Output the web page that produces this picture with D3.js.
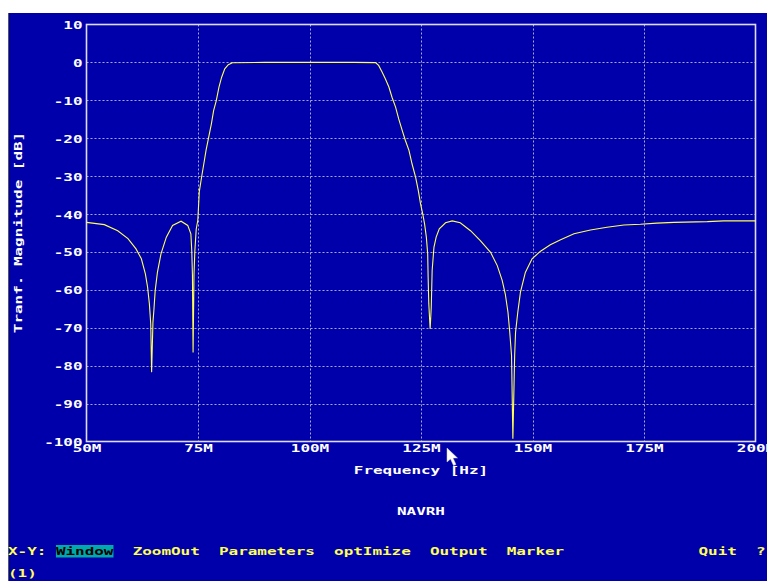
<!DOCTYPE html>
<html>
<head>
<meta charset="utf-8">
<script src="https://cdn.jsdelivr.net/npm/d3@7"></script>
<style>
  body { margin: 0; background: #fff; }
  svg { display: block; }
  text { font-family: "DejaVu Sans Mono", monospace; font-weight: bold; font-size: 11px; }
</style>
</head>
<body>
<svg id="chart" width="767" height="581"></svg>
<script>
// frequency in MHz, magnitude in dB
const freqMHz = [
  50.0, 54.0, 57.0, 59.3, 61.1, 62.3, 63.2, 63.7, 64.1, 64.4, 64.6, 64.9, 65.1, 65.4, 65.9,
  66.7, 67.9, 69.3, 71.2, 72.7, 73.4, 73.6, 73.75, 73.9, 74.1, 74.3, 74.6, 74.95, 75.3, 75.8,
  76.3, 76.8, 77.4, 78.0, 78.5, 79.1, 79.7, 80.3, 81.0, 81.8, 82.7, 90.0, 100.0, 110.0, 114.8,
  115.5, 116.3, 117.0, 117.8, 118.5, 119.3, 120.0, 120.8, 121.5, 122.3, 123.0, 123.8, 124.4, 124.9,
  125.4, 125.8, 126.2, 126.5, 126.6, 126.75, 127.05, 127.3, 127.5, 127.9, 128.4, 129.1, 130.5, 132.0,
  133.8, 136.1, 138.3, 140.6, 142.1, 143.2, 143.9, 144.5, 144.9, 145.3, 145.6, 146.0, 146.2, 146.7,
  147.3, 148.4, 149.9, 151.8, 154.0, 156.3, 159.3, 163.0, 166.7, 170.5, 174.2, 177.9, 181.7, 189.2,
  192.9, 200.0
];
const magDb = [
  -42.2, -42.8, -44.4, -46.5, -49.2, -51.8, -55.8, -59.3, -63.7, -68.9, -81.7, -68.5, -65.5, -60.2, -55.4,
  -50.5, -46.1, -43.0, -41.9, -43.0, -45.2, -49.6, -56.0, -76.5, -56.0, -49.6, -44.0, -41.7, -34.0, -30.3,
  -26.8, -23.2, -19.7, -16.2, -12.7, -10.1, -6.5, -3.9, -1.7, -0.6, -0.1, 0.0, 0.0, 0.0, -0.05,
  -0.8, -2.6, -4.3, -6.5, -9.2, -11.8, -14.9, -18.0, -20.6, -23.2, -26.8, -30.3, -33.8, -37.3,
  -40.0, -42.6, -46.1, -50.5, -56.7, -63.7, -70.3, -64.6, -54.9, -48.8, -46.1, -43.9, -42.3, -41.8,
  -42.3, -44.4, -47.0, -50.1, -53.6, -57.5, -61.1, -65.9, -71.2, -77.3, -99.3, -77.3, -71.2, -65.9,
  -60.6, -55.4, -51.8, -49.8, -48.1, -46.8, -45.2, -44.2, -43.5, -42.9, -42.7, -42.4, -42.2, -42.0,
  -41.8, -41.8
];
const xTicks = [50, 75, 100, 125, 150, 175, 200];
const yTicks = [10, 0, -10, -20, -30, -40, -50, -60, -70, -80, -90, -100];
const menuItems = [
  { label: "X-Y:", col: 0 },
  { label: "Window", col: 5, active: true },
  { label: "ZoomOut", col: 13 },
  { label: "Parameters", col: 22 },
  { label: "optImize", col: 34 },
  { label: "Output", col: 44 },
  { label: "Marker", col: 52 },
  { label: "Quit", col: 72 },
  { label: "?", col: 78 }
];

const CH = 9.59; // width of one text cell
const svg = d3.select("#chart");

// screen
svg.append("rect").attr("x", 9).attr("y", 13).attr("width", 758).attr("height", 568).attr("fill", "#0000aa");
svg.append("line").attr("x1", 8.5).attr("x2", 8.5).attr("y1", 13).attr("y2", 581).attr("stroke", "#555").attr("stroke-width", 1);

const x = d3.scaleLinear().domain([50, 200]).range([86.5, 755.5]);
const y = d3.scaleLinear().domain([-100, 10]).range([441.5, 24.5]);

// grid
const grid = svg.append("g").attr("stroke", "#a8a8d0").attr("stroke-width", 1).attr("stroke-dasharray", "2,2");
grid.selectAll(".gx").data(xTicks.slice(1, -1)).join("line")
  .attr("x1", d => Math.round(x(d)) + 0.5).attr("x2", d => Math.round(x(d)) + 0.5)
  .attr("y1", y(10)).attr("y2", y(-100));
grid.selectAll(".gy").data(yTicks.slice(1, -1)).join("line")
  .attr("x1", x(50)).attr("x2", x(200))
  .attr("y1", d => Math.round(y(d)) + 0.5).attr("y2", d => Math.round(y(d)) + 0.5);

// frame
svg.append("rect")
  .attr("x", x(50)).attr("y", y(10))
  .attr("width", x(200) - x(50)).attr("height", y(-100) - y(10))
  .attr("fill", "none").attr("stroke", "#dcdcf4").attr("stroke-width", 1.6);

// curve
const pts = freqMHz.map((f, i) => [f, magDb[i]]);
const line = d3.line().x(d => x(d[0])).y(d => y(d[1]));
svg.append("path").datum(pts)
  .attr("fill", "none").attr("stroke", "#ffff55").attr("stroke-width", 1.1)
  .attr("d", line);

// tick labels
const yAxis = d3.axisLeft(y).tickValues(yTicks).tickSize(0).tickPadding(4).tickFormat(d => String(d));
svg.append("g").attr("transform", `translate(${x(50)},0)`).call(yAxis)
  .call(g => g.select(".domain").remove())
  .call(g => g.selectAll("text")
    .attr("fill", "#fff").attr("font-family", null).attr("font-size", null)
    .attr("dy", "0.36em")
    .attr("textLength", d => String(d).length * CH).attr("lengthAdjust", "spacingAndGlyphs"));

const xAxis = d3.axisBottom(x).tickValues(xTicks).tickSize(0).tickPadding(7).tickFormat(d => d + "M");
svg.append("g").attr("transform", `translate(0,${y(-100)})`).call(xAxis)
  .call(g => g.select(".domain").remove())
  .call(g => g.selectAll("text")
    .attr("fill", "#fff").attr("font-family", null).attr("font-size", null)
    .attr("dy", "0.3em")
    .attr("textLength", d => (d + "M").length * CH).attr("lengthAdjust", "spacingAndGlyphs"));

function label(txt, px, py, color, anchor) {
  return svg.append("text").attr("x", px).attr("y", py)
    .attr("fill", color).attr("text-anchor", anchor || "start")
    .attr("textLength", txt.length * CH).attr("lengthAdjust", "spacingAndGlyphs")
    .text(txt);
}

label("Frequency [Hz]", 421, 474, "#fff", "middle");
label("NAVRH", 421, 515, "#fff", "middle");
svg.append("text")
  .attr("transform", "translate(22,232.5) rotate(-90)")
  .attr("fill", "#fff").attr("text-anchor", "middle")
  .attr("textLength", 21 * CH).attr("lengthAdjust", "spacingAndGlyphs")
  .text("Tranf. Magnitude [dB]");

// menu line
menuItems.forEach(m => {
  const mx = 8 + m.col * CH;
  if (m.active) {
    svg.append("rect").attr("x", mx).attr("y", 545).attr("width", m.label.length * CH).attr("height", 12.5).attr("fill", "#00aaaa");
  }
  label(m.label, mx, 555, m.active ? "#000" : "#ffff55");
});
label("(1)", 8, 577, "#ffff55");

// mouse pointer
svg.append("path")
  .attr("d", "M447,448 L447,462 L450.5,459 L453.5,465.5 L456,464.5 L453,458 L457.5,458 Z")
  .attr("fill", "#fff").attr("stroke", "#ccc").attr("stroke-width", 0.5);
</script>
</body>
</html>
